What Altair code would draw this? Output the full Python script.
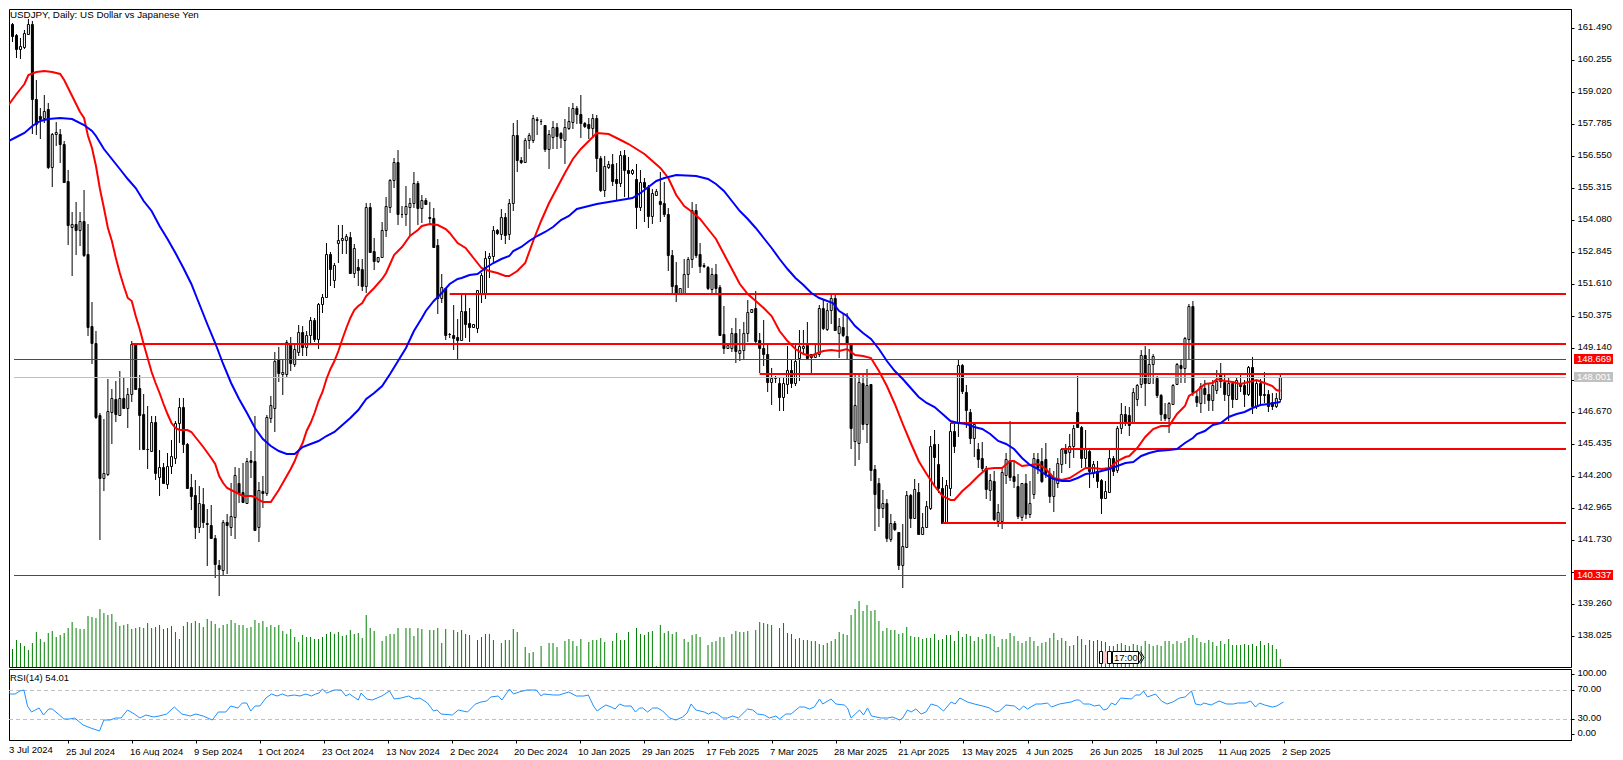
import altair as alt
import pandas as pd

FONT = "Liberation Sans"
FS = 9.5

# Daily candles as (open, high, low, close)
bars_a = [(161.69,161.76,161.40,161.44),(161.63,161.69,160.96,161.18),(161.20,161.24,160.34,160.69),(160.69,161.11,160.28,160.79),(160.77,161.40,160.69,161.31),(161.27,161.82,161.24,161.66),(161.63,161.75,157.38,158.76),(158.73,159.47,157.36,157.80),(158.09,158.41,157.19,157.99),(158.00,158.89,157.83,158.28),
(158.35,158.61,156.06,156.14),(156.14,157.45,155.36,157.38),(157.38,157.87,156.93,157.47),(157.38,157.58,156.27,157.00),(157.00,157.13,155.52,155.56),(155.58,156.01,153.13,153.87),(153.82,154.39,151.93,153.91),(153.94,154.77,152.71,153.70),(153.68,154.39,153.07,154.04),(154.04,155.24,152.66,152.71),
(152.75,153.91,149.60,149.96),(149.99,150.91,148.53,149.34),(149.32,149.79,146.41,146.49),(146.55,146.61,141.71,144.13),(144.13,146.38,143.62,144.30),(144.26,147.93,144.20,146.70),(146.68,147.54,145.44,147.19),(147.17,147.86,146.29,146.60),(146.55,148.25,146.51,147.19),(147.19,147.97,146.83,146.83),
(146.83,147.58,146.06,147.35),(147.35,149.41,147.05,149.28),(149.28,149.34,147.54,147.57),(147.58,148.09,145.19,146.55),(146.58,147.35,145.19,145.25),(145.22,146.90,144.48,145.25),(145.16,146.51,145.13,146.28),(146.28,146.51,144.04,144.33),(144.17,145.19,143.42,144.54),(144.54,144.70,143.94,143.94)]
bars_b = [(143.90,145.07,143.71,144.58),(144.58,145.57,144.26,144.97),(144.90,146.31,144.65,146.25),(146.25,147.19,145.48,146.86),(146.86,147.22,145.10,145.44),(145.45,145.48,143.71,143.75),(143.77,144.26,142.87,143.42),(143.46,144.03,141.78,142.24),(142.24,143.80,142.00,143.14),(143.10,143.75,142.20,142.43),
(142.37,142.91,140.72,142.35),(142.30,143.08,141.75,141.82),(141.79,141.91,140.27,140.81),(140.75,140.94,139.56,140.62),(140.58,142.48,140.34,142.42),(142.42,142.72,140.40,142.29),(142.24,143.94,141.88,142.65),(142.63,144.54,141.75,144.22),(143.94,144.49,143.17,143.55),(143.58,144.68,143.14,143.19),
(143.17,144.90,143.10,144.77),(144.80,145.16,144.13,144.75),(144.77,146.51,142.07,142.10),(142.24,143.96,141.66,143.64),(143.62,144.20,142.97,143.55),(143.55,146.55,143.42,146.47),(146.45,147.28,146.25,146.94),(146.81,148.98,145.91,148.63),(148.70,149.17,147.84,148.18),(148.12,148.70,147.32,148.21),
(148.15,149.43,148.02,149.38),(149.28,149.56,148.25,148.57),(148.53,149.28,148.40,149.08),(148.99,150.02,148.83,149.74),(149.75,150.00,148.83,149.19),(149.17,149.79,148.83,149.62),(149.62,150.33,149.25,150.22),(150.22,150.31,149.38,149.50),(149.50,150.89,149.11,150.82),(150.82,151.23,150.50,151.11)]
bars_c = [(151.11,153.20,151.07,152.75),(152.78,152.86,151.53,152.17),(151.77,152.43,151.47,152.34),(153.20,153.88,152.43,153.31),(153.29,153.88,152.78,153.37),(153.29,153.55,152.75,153.45),(153.42,153.63,152.01,152.05),(152.02,153.14,151.83,152.98),(152.26,152.56,151.53,152.16),(152.17,152.56,151.34,151.53),
(151.53,154.75,151.27,154.58),(154.58,154.75,152.82,152.86),(152.88,153.37,152.15,152.50),(152.50,152.64,152.43,152.64),(152.63,154.00,152.63,153.68),(153.68,154.97,153.42,154.62),(154.59,155.67,154.36,155.62),(155.61,156.46,155.33,156.30),(156.30,156.77,153.87,154.30),(154.30,154.62,154.17,154.32),
(154.30,155.39,153.85,154.62),(154.58,154.94,153.46,154.73),(154.73,155.93,154.55,155.49),(155.52,155.58,153.88,154.53),(154.53,155.04,153.97,154.84),(154.83,154.91,154.65,154.71),(154.19,154.78,153.88,154.14),(154.14,154.53,153.01,153.05),(153.11,153.33,150.46,151.08),(151.08,151.98,150.86,151.48),
(151.44,151.46,149.43,149.64),(149.67,149.73,149.53,149.69),(149.62,150.79,149.05,149.53),(149.56,150.24,148.66,149.46),(149.46,151.21,149.43,150.56),(150.56,151.20,149.53,150.07),(150.09,150.69,149.38,149.96),(149.96,150.05,149.92,150.05),(149.92,151.36,149.70,151.36),(151.21,152.04,150.88,151.94)]
bars_d = [(151.21,152.88,151.01,152.60),(152.60,152.81,151.85,152.67),(152.67,153.84,152.36,153.68),(153.68,153.72,153.50,153.57),(153.55,154.49,153.29,154.19),(154.19,154.36,153.16,153.50),(153.52,154.87,153.29,154.72),(154.72,157.81,154.42,157.34),(157.34,157.92,155.94,156.38),(156.38,156.50,156.25,156.31),
(156.33,157.23,156.33,157.15),(157.15,157.45,156.80,157.36),(157.17,158.11,157.06,158.00),(157.94,158.05,157.36,157.98),(157.90,157.96,157.74,157.88),(157.74,157.76,156.71,156.83),(156.83,157.54,156.03,157.38),(157.29,157.90,156.80,157.66),(157.66,157.83,156.80,157.32),(157.45,157.47,156.87,157.23),
(157.16,157.96,156.22,157.66),(157.64,158.44,157.54,157.90),(157.87,158.60,157.57,158.39),(158.39,158.48,157.79,158.15),(158.17,158.90,157.23,157.83),(157.83,157.87,157.61,157.70),(157.77,158.00,157.19,157.61),(157.64,158.18,157.25,158.00),(158.00,158.13,155.94,156.46),(156.46,156.55,155.17,155.22),
(155.22,156.55,154.98,156.16),(156.12,156.35,156.03,156.22),(156.22,156.64,155.39,155.58),(155.67,156.29,154.83,155.52),(155.52,156.74,155.35,156.58),(156.58,156.76,154.95,155.99),(156.00,156.51,154.94,155.89),(155.89,156.03,155.80,156.00),(155.65,156.25,153.71,154.58),(154.58,155.99,154.42,155.54)]
bars_e = [(155.54,155.71,154.00,155.35),(155.35,155.43,153.78,154.23),(154.23,155.26,153.91,155.13),(155.04,155.26,155.00,155.20),(154.81,155.94,154.01,154.71),(154.72,155.54,154.19,154.29),(154.29,154.55,152.11,152.71),(152.72,152.92,151.21,151.53),(151.55,152.45,150.92,151.27),(151.27,151.47,151.23,151.44),
(151.27,152.56,151.20,151.98),(151.98,152.63,151.46,152.56),(152.56,154.78,152.24,154.45),(154.45,154.68,152.62,152.72),(152.75,153.17,152.04,152.30),(152.30,152.41,152.24,152.33),(152.26,152.30,151.36,151.44),(151.40,152.24,151.27,152.01),(152.01,152.36,151.21,151.44),(151.49,151.57,149.60,149.64),
(149.66,150.76,148.92,149.15),(149.15,149.34,149.12,149.24),(149.15,149.92,149.00,149.73),(149.73,150.31,148.57,149.02),(148.96,149.86,148.63,149.05),(149.05,150.15,148.70,149.70),(149.73,151.00,149.35,150.52),(150.52,150.66,150.50,150.63),(150.67,151.33,149.28,149.41),(149.45,149.70,148.19,149.13),
(149.13,150.21,148.44,148.89),(148.89,149.25,147.45,147.84),(147.84,148.38,146.94,147.97),(147.96,148.06,147.80,148.02),(147.80,147.99,146.71,147.26),(147.26,147.99,146.70,147.80),(147.76,149.22,147.38,148.28),(148.28,148.70,147.60,147.80),(147.80,149.25,147.67,148.64),(148.74,149.82,147.86,149.22)]
bars_f = [(149.12,149.82,148.90,149.22),(149.25,150.15,148.70,148.74),(148.89,148.90,148.19,148.77),(148.77,149.25,148.74,148.89),(148.92,150.80,148.80,150.69),(150.67,151.00,149.82,149.90),(149.86,150.89,149.80,150.59),(150.59,151.21,150.08,151.05),(151.05,151.21,149.80,149.83),(149.73,150.31,148.74,149.99),
(149.95,150.44,149.55,149.63),(149.60,150.50,148.70,149.28),(149.28,149.30,145.23,146.06),(145.55,148.12,144.58,146.93),(145.46,148.10,144.82,147.83),(147.77,148.10,145.96,146.22),(146.22,148.31,145.48,147.71),(147.74,147.76,144.00,144.42),(144.46,144.61,142.07,143.49),(143.91,144.13,142.24,142.98),
(142.98,143.64,142.59,143.14),(143.14,143.30,141.63,141.82),(141.78,142.74,141.63,142.37),(142.40,142.46,142.07,142.17),(142.04,142.05,140.56,140.76),(140.76,142.33,139.89,141.50),(141.46,143.62,141.43,143.46),(143.46,143.50,142.20,142.59),(142.59,144.07,142.53,143.68),(143.59,143.94,141.97,141.97),
(141.95,142.78,141.92,142.24),(142.24,143.23,142.20,143.04),(142.98,145.74,142.89,145.36),(145.45,145.97,143.81,144.93),(144.67,145.42,143.55,143.75),(143.72,144.16,142.37,142.40),(142.40,144.03,142.37,143.85),(143.75,146.26,143.43,145.93),(145.93,146.26,145.10,145.36),(146.26,148.68,145.72,148.47)]
bars_g = [(148.47,148.51,147.38,147.48),(147.44,147.70,146.06,146.75),(146.67,146.77,145.42,145.68),(145.68,146.26,144.94,146.19),(145.25,145.48,144.52,144.84),(144.88,145.52,144.39,144.52),(144.52,144.58,143.30,143.68),(143.64,144.26,143.23,144.03),(144.00,144.39,142.46,142.53),(142.46,143.13,142.24,142.82),
(142.46,144.46,142.14,144.35),(144.24,145.10,143.88,144.84),(144.80,146.32,144.00,144.17),(144.20,144.78,143.75,144.00),(143.81,144.26,142.53,142.65),(142.62,143.94,142.46,143.91),(143.91,144.26,142.53,142.74),(142.72,144.00,142.59,143.17),(143.52,145.10,143.30,144.88),(144.84,145.10,144.26,144.52),
(144.78,145.29,143.94,144.00),(144.84,145.48,144.13,144.33),(144.33,144.52,143.17,143.43),(143.43,144.39,142.82,144.13),(143.94,144.91,143.75,144.69),(144.67,145.29,144.33,145.23),(145.23,145.42,144.65,145.10),(145.14,145.81,144.52,145.36),(145.36,146.17,144.91,146.06),(146.67,148.04,146.06,146.09),
(146.09,146.13,144.52,144.91),(144.91,145.96,144.52,145.23),(145.16,145.23,143.75,144.39),(144.33,144.78,144.13,144.65),(144.39,144.78,143.75,144.00),(144.04,144.07,142.72,143.36),(143.36,144.00,143.30,143.62),(143.59,145.19,143.55,144.91),(144.91,144.97,144.20,144.39),(144.42,146.13,144.33,146.04)]
bars_h = [(146.04,147.03,145.81,146.58),(146.58,146.90,146.13,146.26),(146.55,146.86,145.74,146.17),(146.26,147.58,146.19,147.44),(147.16,147.74,146.90,147.70),(147.74,149.06,147.61,148.85),(148.85,149.20,146.90,147.80),(147.80,149.09,147.74,148.53),(148.53,148.89,147.74,148.83),(147.99,148.06,147.19,147.32),
(147.32,147.35,146.32,146.58),(146.58,147.03,146.30,146.45),(146.45,147.07,145.87,147.03),(146.99,147.74,146.96,147.70),(147.74,148.57,147.72,148.51),(148.48,148.70,147.80,148.38),(148.38,149.57,147.80,149.54),(149.50,150.85,148.70,150.76),(150.76,150.95,147.29,147.45),(147.29,147.48,146.86,147.07),
(147.03,147.80,146.64,147.67),(147.58,147.89,146.99,147.38),(147.38,147.80,146.71,147.12),(147.12,147.89,146.71,147.71),(147.50,148.28,147.38,147.86),(148.12,148.55,147.58,147.86),(147.84,148.19,147.09,147.38),(147.32,147.97,146.30,147.80),(147.80,147.86,146.81,147.16),(147.16,148.02,147.12,147.89),
(147.80,148.10,147.45,147.67),(147.70,147.89,146.86,147.35),(147.35,148.44,147.29,148.40),(148.40,148.79,146.58,146.90),(146.90,147.86,146.77,147.80),(147.80,147.93,146.96,147.32),(147.36,148.21,147.03,147.34),(147.35,147.50,146.68,146.90),(147.07,147.41,146.73,146.90),(146.90,147.41,146.81,147.21),(147.18,148.10,147.07,148.00)]

# Tick volume estimates per bar
volume = [55,55,81,73,63,51,73,105,84,76, 103,108,90,96,103,118,135,118,114,114,
153,151,148,174,162,156,159,135,123,126, 128,113,116,121,116,132,118,120,126,113,
116,123,105,84,123,135,133,138,133,120, 144,138,130,118,126,128,140,133,126,126,
118,120,141,133,138,120,126,120,125,108, 98,114,90,76,96,90,91,84,84,90,
100,105,98,105,92,96,111,100,102,88, 156,118,108,0,78,93,100,100,116,0,
117,117,93,117,113,0,111,111,116,73, 113,3,111,106,110,98,96,0,81,90,
99,99,81,0,72,81,81,114,105,0, 60,42,45,0,62,0,72,72,60,0,
78,83,78,63,84,0,75,81,81,87, 76,0,78,102,81,81,105,0,117,99,
96,105,108,3,126,102,108,99,105,0, 84,75,96,99,90,0,66,75,78,90,
90,0,99,108,105,105,108,0,111,135, 132,129,126,0,117,132,102,99,84,87,
81,81,78,78,69,66,72,78,84,105, 99,96,156,174,198,168,186,168,171,138,
108,117,111,111,99,102,120,93,90,90, 84,87,87,99,81,84,96,96,78,108,
90,99,93,78,90,84,99,99,93,60, 84,84,102,93,78,72,78,90,78,63,
72,75,87,102,81,87,78,63,66,93, 84,66,81,78,81,78,75,63,63,69,
72,66,63,69,66,63,78,69,63,66, 63,78,78,69,78,72,78,87,96,87,
75,72,81,75,63,78,69,84,66,66, 66,69,66,69,63,78,66,72,66,54,24]

# Moving averages, sampled as (bar, value)
red_ma = [(0,158.52),(2,158.93),(4,159.31),(5,159.67),(7,159.80),(9,159.84),(11,159.79),(13,159.70),(14,159.47),(16,158.86),(18,158.25),(19,158.03),(20,157.32),(21,156.87),(22,156.16),(23,155.26),(24,154.55),(25,153.78),(26,153.27),(27,152.62),(28,152.05),(29,151.53),(30,151.08),(31,150.95),(32,150.37),(33,149.86),(34,149.28),(35,148.76),(36,148.21),(37,147.80),(38,147.41),(39,146.96),(40,146.58),(41,146.25),(42,146.06),(43,145.98),(45,145.98),(46,145.91),(47,145.70),(49,145.33),(51,144.90),(52,144.65),(53,144.20),(54,143.94),(55,143.75),(56,143.64),(57,143.58),(58,143.49),(59,143.44),(61,143.44),(62,143.39),(63,143.28),(64,143.19),(66,143.19),(67,143.42),(68,143.64),(69,143.91),(70,144.20),(71,144.45),(72,144.77),(73,145.16),(74,145.48),(75,145.93),(76,146.25),(77,146.64),(78,147.09),(79,147.45),(80,147.93),(81,148.31),(82,148.63),(83,149.02),(84,149.47),(85,149.92),(86,150.31),(87,150.59),(88,150.77),(89,150.89),(90,151.14),(91,151.30),(92,151.44),(94,151.79),(95,152.05),(96,152.37),(97,152.73),(99,153.04),(101,153.46),(103,153.68),(104,153.84),(106,153.93),(108,153.88),(110,153.71),(111,153.59),(113,153.20),(115,153.01),(117,152.62),(119,152.24),(121,152.11),(123,152.04),(125,151.91),(126,151.91),(128,152.11),(130,152.43),(132,153.26),(134,154.04),(136,154.74),(138,155.32),(140,155.90),(142,156.42),(144,156.80),(146,157.12),(148,157.45),(151,157.41),(154,157.15),(156,157.00),(158,156.80),(160,156.61),(162,156.35),(164,156.10),(166,155.71),(168,155.03),(170,154.62),(172,154.40),(174,154.10),(176,153.71),(178,153.33),(180,152.75),(182,152.17),(184,151.59),(186,151.21),(188,150.95),(190,150.69),(192,150.37),(194,149.79),(196,149.40),(198,149.08),(200,148.89),(202,148.83),(203,148.89),(205,149.02),(207,149.07),(209,149.02),(211,149.09),(213,148.87),(215,148.83),(217,148.74),(219,148.25),(221,147.67),(223,146.96),(225,146.19),(227,145.48),(229,144.78),(231,144.26),(233,143.81),(235,143.43),(237,143.28),(238,143.27),(240,143.62),(242,143.88),(244,144.20),(246,144.46),(248,144.52),(250,144.52),(252,144.78),(253,144.78),(255,144.58),(257,144.62),(259,144.67),(261,144.46),(263,144.11),(265,144.03),(267,144.13),(269,144.33),(271,144.49),(273,144.52),(275,144.46),(277,144.52),(279,144.78),(281,144.93),(282,144.96),(284,145.29),(286,145.70),(288,146.00),(290,146.11),(292,146.13),(294,146.58),(296,146.90),(297,147.29),(299,147.48),(301,147.74),(303,147.80),(304,147.93),(306,147.86),(308,147.84),(310,147.74),(312,147.84),(314,147.90),(316,147.80),(318,147.67),(319,147.50),(320,147.48)]
blue_ma = [(0,157.13),(2,157.28),(4,157.45),(6,157.71),(8,157.90),(10,157.96),(13,158.03),(16,157.96),(19,157.74),(21,157.51),(22,157.32),(24,156.80),(26,156.42),(28,156.03),(30,155.65),(32,155.33),(34,154.81),(36,154.42),(38,153.85),(40,153.33),(42,152.82),(44,152.24),(46,151.60),(47.5,151.02),(50,150.05),(52,149.34),(54,148.51),(56,147.80),(58,147.15),(60,146.64),(62,146.06),(64,145.61),(66,145.35),(68,145.16),(70,145.06),(72,145.06),(74,145.32),(76,145.42),(78,145.55),(80,145.74),(82,145.89),(84,146.16),(86,146.42),(88,146.73),(90,147.15),(92,147.41),(94,147.67),(96,148.12),(98,148.63),(100,149.15),(102,149.79),(104,150.31),(105,150.56),(107,150.95),(109,151.27),(111,151.59),(113,151.79),(114,151.85),(116,151.95),(118,152.00),(120,152.24),(122,152.43),(124,152.56),(126,152.69),(127,152.88),(129,153.05),(131,153.26),(133,153.46),(135,153.63),(137,153.81),(139,154.06),(141,154.23),(143,154.49),(145,154.58),(148,154.68),(151,154.78),(154,154.83),(157,154.94),(159,155.13),(161,155.35),(163,155.58),(165,155.71),(168,155.81),(173,155.77),(176,155.65),(178,155.45),(180,155.19),(182,154.81),(184,154.42),(186,154.10),(188,153.78),(190,153.39),(192,153.01),(194,152.56),(196,152.17),(198,151.85),(200,151.57),(202,151.27),(204,151.08),(207.4,150.89),(209,150.57),(211,150.37),(213,149.99),(215,149.73),(217,149.47),(219,149.09),(221,148.64),(223,148.25),(225,147.93),(227,147.61),(229,147.25),(231,147.03),(233,146.86),(235,146.58),(237,146.30),(239,146.26),(241,146.22),(243,146.09),(245,146.00),(247,145.81),(249,145.55),(251,145.42),(253,145.22),(255,144.91),(257,144.62),(259,144.46),(261,144.24),(263,144.07),(265,144.00),(267,144.00),(269,144.13),(271,144.26),(273,144.33),(275,144.39),(277,144.46),(279,144.58),(281,144.71),(283,144.75),(285,144.97),(287,145.10),(289,145.16),(292,145.19),(294,145.22),(296,145.48),(298,145.68),(299,145.81),(301,145.93),(303,146.17),(305,146.26),(307,146.48),(309,146.58),(311,146.68),(313,146.84),(315,146.93),(317,146.99),(320,147.07)]

# RSI(14), sampled as (bar, value)
rsi_line = [(0.1,73.6),(1.8,64.4),(2.9,64.4),(4.1,69),(5.1,69.9),(6,48.3),(7,40.5),(8.9,46),(10,35.9),(11.3,43.7),(12.2,43.7),(13.7,36.8),(15.1,29.9),(16.5,29.9),(17.8,32.2),(19.9,22.1),(21.8,17.5),(24,14.3),(25.1,29),(26.7,28.5),(28,31.3),(29.4,32.2),(31,42.3),(32.7,36.8),(34.1,32.2),(35.6,35.9),(37.5,33.1),(38.9,34),(40.8,37.7),(42.7,46.9),(44.6,37.7),(46.7,34),(48.1,36.8),(49.9,34.5),(52.2,29.4),(53.7,39.5),(55.6,40.5),(56.8,47.8),(58.6,45.1),(59.7,52.4),(60.8,52.4),(61.8,41.4),(62.9,47.8),(64.1,47.8),(65.6,58.9),(67,64.4),(68.4,61.6),(69.7,65.3),(71,62.1),(72.7,63.5),(74.1,62.1),(75.6,65.3),(77,61.6),(78,65.3),(78.9,66.2),(79.7,71.3),(80.8,66.2),(82.7,69.9),(84.4,69.9),(85.6,61.6),(86.5,64.4),(88.7,56.6),(89.4,66.2),(90.8,57.5),(92.2,56.1),(94.6,62.1),(96.5,69),(97.7,57.9),(99.4,58.9),(101.3,61.6),(102.7,57.9),(104.1,58.9),(106,52.4),(107.5,41.4),(108.4,42.3),(109.4,36.8),(112.2,35.9),(113.7,42.3),(116,39.5),(118,50.6),(119.4,54.2),(120.8,55.2),(121.8,60.7),(123.7,61.6),(124.6,57),(126.5,71.3),(127.5,65.3),(128.9,68.1),(130.8,69.9),(133.2,69.9),(134.4,61.6),(135.1,64.4),(137.5,63.5),(138.9,63.5),(141.3,67.1),(143.2,61.6),(145.1,61.6),(146.2,63.5),(147.5,48.3),(148.4,41.4),(149.4,45.1),(150.6,49.2),(151.9,46.9),(152.9,44.1),(154,51.5),(155.2,48.3),(156.9,48.3),(158,39.5),(159,46),(159.8,46),(161,39.5),(162.3,46),(163.5,46),(164.8,41.4),(166.5,32.2),(168.1,28.5),(169.8,33.1),(170.9,39.1),(171.9,50.6),(173.1,42.3),(175.2,40.5),(176.2,36.8),(177.3,40.5),(178.5,36.8),(179.8,31.3),(181,31.3),(182.3,35),(183.7,32.2),(186,44.1),(187.3,43.2),(188.5,37.7),(190.2,35.9),(191.5,32.2),(193.1,34),(194,30.3),(195.6,37.7),(196.9,36.8),(199,46.9),(200.2,46.9),(201.5,43.7),(202.7,46.9),(204,57.5),(204.8,51.5),(206.9,57.5),(208.1,50.6),(210.2,49.7),(211,45.1),(211.9,32.2),(214,42.3),(215,35.9),(216,45.1),(217,35),(219.4,32.2),(221,31.3),(222.3,33.1),(224,28.5),(224.8,32.2),(226,42.3),(226.9,39.5),(228.1,43.7),(229.4,37.7),(230.6,40.5),(231.9,51.5),(233.5,48.3),(235,41.4),(236.9,54.2),(237.9,51.5),(239.1,59.8),(241,54.2),(242.7,50.6),(244.8,48.7),(246.5,46),(248.1,40.5),(249,41.4),(250.6,49.7),(252.7,48.3),(254,42.3),(255,47.8),(256,43.7),(258.1,51.5),(259.4,51.5),(261,52.4),(262,46.9),(264,51.5),(266.9,53.8),(268.1,57),(269,57),(270,50.6),(271.5,51.5),(272.7,48.3),(274,49.2),(275,42.3),(275.9,43.7),(277,52.4),(278,49.2),(279.3,58.9),(282,57.5),(283,63),(284.1,63.5),(285,69),(286,60.7),(288,64.4),(289.5,55.2),(290.9,51.5),(292.3,54.2),(294,59.8),(295.4,60.7),(297,69),(298,50.6),(299.3,49.7),(300.1,52),(301.9,49.7),(303.9,54.7),(305.8,51.5),(307.5,51.5),(308.5,52.4),(310.5,52),(311.8,55.2),(313,46.9),(314,52),(315.3,49.7),(317.2,46.9),(318.3,48.3),(320,54.01)]

# Horizontal levels: (first bar, price)
levels = [(111,151.220),(31,149.291),(189,148.133),(237,146.242),(265,145.238),(235,142.382)]
thin_levels = [148.712,140.375]
last_price = 148.017
price_ticks = [161.490,160.255,159.020,157.785,156.550,155.315,154.080,152.845,151.610,150.375,149.140,147.905,146.670,145.435,144.200,142.965,141.730,140.495,139.260,138.025]
time_labels = ["25 Jul 2024","16 Aug 2024","9 Sep 2024","1 Oct 2024","23 Oct 2024","13 Nov 2024","2 Dec 2024","20 Dec 2024","10 Jan 2025","29 Jan 2025","17 Feb 2025","7 Mar 2025","28 Mar 2025","21 Apr 2025","13 May 2025","4 Jun 2025","26 Jun 2025","18 Jul 2025","11 Aug 2025","2 Sep 2025"]
tags = [("148.669",148.712,"#ff0000"),("148.001",148.017,"#c0c0c0"),("140.337",140.375,"#ff0000")]

W, H_MAIN, H_RSI = 1562, 658, 71
X_MIN, X_MAX = 1.375, 391.875
Y_MIN, Y_MAX = 136.825, 162.22
PX_PER_UNIT = 25.91

bars = bars_a + bars_b + bars_c + bars_d + bars_e + bars_f + bars_g + bars_h
df = pd.DataFrame(bars, columns=["open", "high", "low", "close"])
df["idx"] = range(len(df))
df["vol"] = volume[:len(df)]
df["vol_base"] = Y_MIN
df["vol_top"] = Y_MIN + df["vol"] / 3 / PX_PER_UNIT

x_s = alt.Scale(domain=[X_MIN, X_MAX], nice=False, zero=False)
y_s = alt.Scale(domain=[Y_MIN, Y_MAX], nice=False, zero=False, round=True)
X = alt.X("idx:Q", scale=x_s, axis=None)
price_axis = alt.Axis(orient="right", values=price_ticks, tickSize=3, labelPadding=3, labelOffset=-2,
                      labelExpr="abs(datum.value-147.905)<0.01 || abs(datum.value-140.495)<0.01 ? '' : format(datum.value,'.3f')",
                      labelFont=FONT, labelFontSize=FS, labelColor="black", tickColor="black",
                      domainColor="black", grid=False, title=None, labelFlush=False, labelOverlap=False)
def Y(f):
    return alt.Y(f + ":Q", scale=y_s, axis=price_axis)

base = alt.Chart(df)
vol = base.mark_rule(color="#008000", strokeWidth=1, clip=True).encode(x=X, y=Y("vol_top"), y2="vol_base:Q")
wick = base.mark_rule(color="black", strokeWidth=1, clip=True).encode(x=X, y=Y("low"), y2="high:Q")
body = base.mark_bar(size=2, stroke="black", strokeWidth=1, clip=True, orient="vertical", yOffset=0.5, y2Offset=0.5).encode(
    x=X, y=Y("open"), y2="close:Q",
    fill=alt.condition("datum.close >= datum.open", alt.value("white"), alt.value("black")))

red_df = pd.DataFrame(red_ma, columns=["idx", "v"])
blue_df = pd.DataFrame(blue_ma, columns=["idx", "v"])
red_line = alt.Chart(red_df).mark_line(color="#ff0000", strokeWidth=2, clip=True).encode(x=X, y=Y("v"))
blue_line = alt.Chart(blue_df).mark_line(color="#0000ff", strokeWidth=2, clip=True).encode(x=X, y=Y("v"))

lv = pd.DataFrame(levels, columns=["idx", "p"])
lv["end"] = X_MAX
level_rules = alt.Chart(lv).mark_rule(color="#ff0000", strokeWidth=2, clip=True).encode(x=X, x2="end:Q", y=Y("p"))
tl = pd.DataFrame({"p": thin_levels, "idx": X_MIN, "end": X_MAX})
thin_rules = alt.Chart(tl).mark_rule(color="#ff0000", strokeWidth=1, clip=True, yOffset=0.5).encode(x=X, x2="end:Q", y=Y("p"))
gl = pd.DataFrame({"p": [last_price], "idx": X_MIN, "end": X_MAX})
gray_rule = alt.Chart(gl).mark_rule(color="#c0c0c0", strokeWidth=1, clip=True, yOffset=0.5).encode(x=X, x2="end:Q", y=Y("p"))

tg = pd.DataFrame(tags, columns=["t", "p", "c"])
tg["top"] = tg["p"] + 5.35 / PX_PER_UNIT
tg["bot"] = tg["p"] - 5.35 / PX_PER_UNIT
tag_rect = alt.Chart(tg).mark_rect().encode(x=alt.value(1565), x2=alt.value(1604), y=Y("top"), y2="bot:Q",
                                             color=alt.Color("c:N", scale=None))
tag_text = alt.Chart(tg).mark_text(align="left", baseline="middle", color="white", font=FONT, fontSize=FS).encode(
    x=alt.value(1568), y=Y("p"), text="t:N")

title = alt.Chart(pd.DataFrame({"t": ["USDJPY, Daily:  US Dollar vs Japanese Yen"]})).mark_text(
    align="left", baseline="middle", font=FONT, fontSize=9.8, color="black").encode(
    x=alt.value(1), y=alt.value(6), text="t:N")

# server-time widget
def box(x0, x1, y0, y1, **kw):
    return alt.Chart(pd.DataFrame({"a": [0]})).mark_rect(**kw).encode(
        x=alt.value(x0), x2=alt.value(x1), y=alt.value(y0), y2=alt.value(y1))
def seg(x0, x1, y0, y1):
    return alt.Chart(pd.DataFrame({"a": [0]})).mark_rule(color="black", strokeWidth=1).encode(
        x=alt.value(x0), x2=alt.value(x1), y=alt.value(y0), y2=alt.value(y1))
w1 = box(1090.5, 1093.5, 642.5, 654.5, fill="white", stroke="black", strokeWidth=1)
w2 = box(1094, 1098, 642.5, 654.5, fill="#ffc8c8")
w3 = box(1098.5, 1102.5, 642.5, 654.5, fill="white", stroke="black", strokeWidth=1)
w4 = box(1103.5, 1129.5, 642.5, 654.5, fill="white", stroke="black", strokeWidth=1)
w5 = seg(1129.5, 1133, 642.5, 648.5)
w6 = seg(1133, 1129.5, 648.5, 654.5)
w7 = seg(1131.5, 1135, 642.5, 648.5)
w8 = seg(1135, 1131.5, 648.5, 654.5)
wt = alt.Chart(pd.DataFrame({"t": ["17:00"]})).mark_text(align="left", baseline="middle", font=FONT, fontSize=FS, color="black").encode(
    x=alt.value(1105), y=alt.value(648.5), text="t:N")

main = alt.layer(vol, wick, body, gray_rule, thin_rules, level_rules, red_line, blue_line, tag_rect, tag_text,
                 title, w1, w2, w3, w4, w5, w6, w7, w8, wt).properties(width=W, height=H_MAIN)

# RSI panel
r_s = alt.Scale(domain=[1.38, 99.3], nice=False, zero=False, round=True)
rsi_axis = alt.Axis(orient="right", values=[92, 70, 30, 9.2], tickSize=3, labelPadding=3, labelOffset=-2,
                    labelExpr="datum.value > 90 ? '100.00' : datum.value < 10 ? '0.00' : format(datum.value, '.2f')",
                    labelFont=FONT, labelFontSize=FS, labelColor="black", tickColor="black",
                    domainColor="black", grid=False, title=None, labelFlush=False)
time_expr = "[" + ",".join("'%s'" % s for s in time_labels) + "][datum.value / 16 - 1]"
time_axis = alt.Axis(values=[16 * (k + 1) for k in range(len(time_labels))], labelExpr=time_expr, labelAlign="left",
                     tickSize=3, labelPadding=3, labelOffset=-2, labelFont=FONT, labelFontSize=FS, labelColor="black",
                     tickColor="black", domainColor="black", grid=False, title=None, labelFlush=False, labelOverlap=False)
rsi_df = pd.DataFrame(rsi_line, columns=["idx", "v"])
XR = alt.X("idx:Q", scale=x_s, axis=time_axis)
def YR(f):
    return alt.Y(f + ":Q", scale=r_s, axis=rsi_axis)
lv_r = pd.DataFrame({"v": [70, 30], "idx": X_MIN, "end": X_MAX})
rsi_levels = alt.Chart(lv_r).mark_rule(color="#c0c0c0", strokeWidth=1, strokeDash=[4, 3], yOffset=0.5).encode(x=XR, x2="end:Q", y=YR("v"))
rsi_l = alt.Chart(rsi_df).mark_line(color="#1e90ff", strokeWidth=1, clip=True).encode(x=XR, y=YR("v"))
rsi_title = alt.Chart(pd.DataFrame({"t": ["RSI(14) 54.01"]})).mark_text(align="left", baseline="middle", font=FONT, fontSize=FS, color="black").encode(
    x=alt.value(1), y=alt.value(9), text="t:N")
first_time = alt.Chart(pd.DataFrame({"t": ["3 Jul 2024"]})).mark_text(align="left", baseline="middle", font=FONT, fontSize=FS, color="black").encode(
    x=alt.value(0), y=alt.value(81), text="t:N")
rsi = alt.layer(rsi_levels, rsi_l, rsi_title, first_time).properties(width=W, height=H_RSI)

chart = alt.vconcat(main, rsi, spacing=2, bounds="flush").properties(padding=0, background="white").configure_view(
    stroke="black", strokeWidth=1)
chart.save("out.html", embed_options={"renderer": "svg", "actions": False})
